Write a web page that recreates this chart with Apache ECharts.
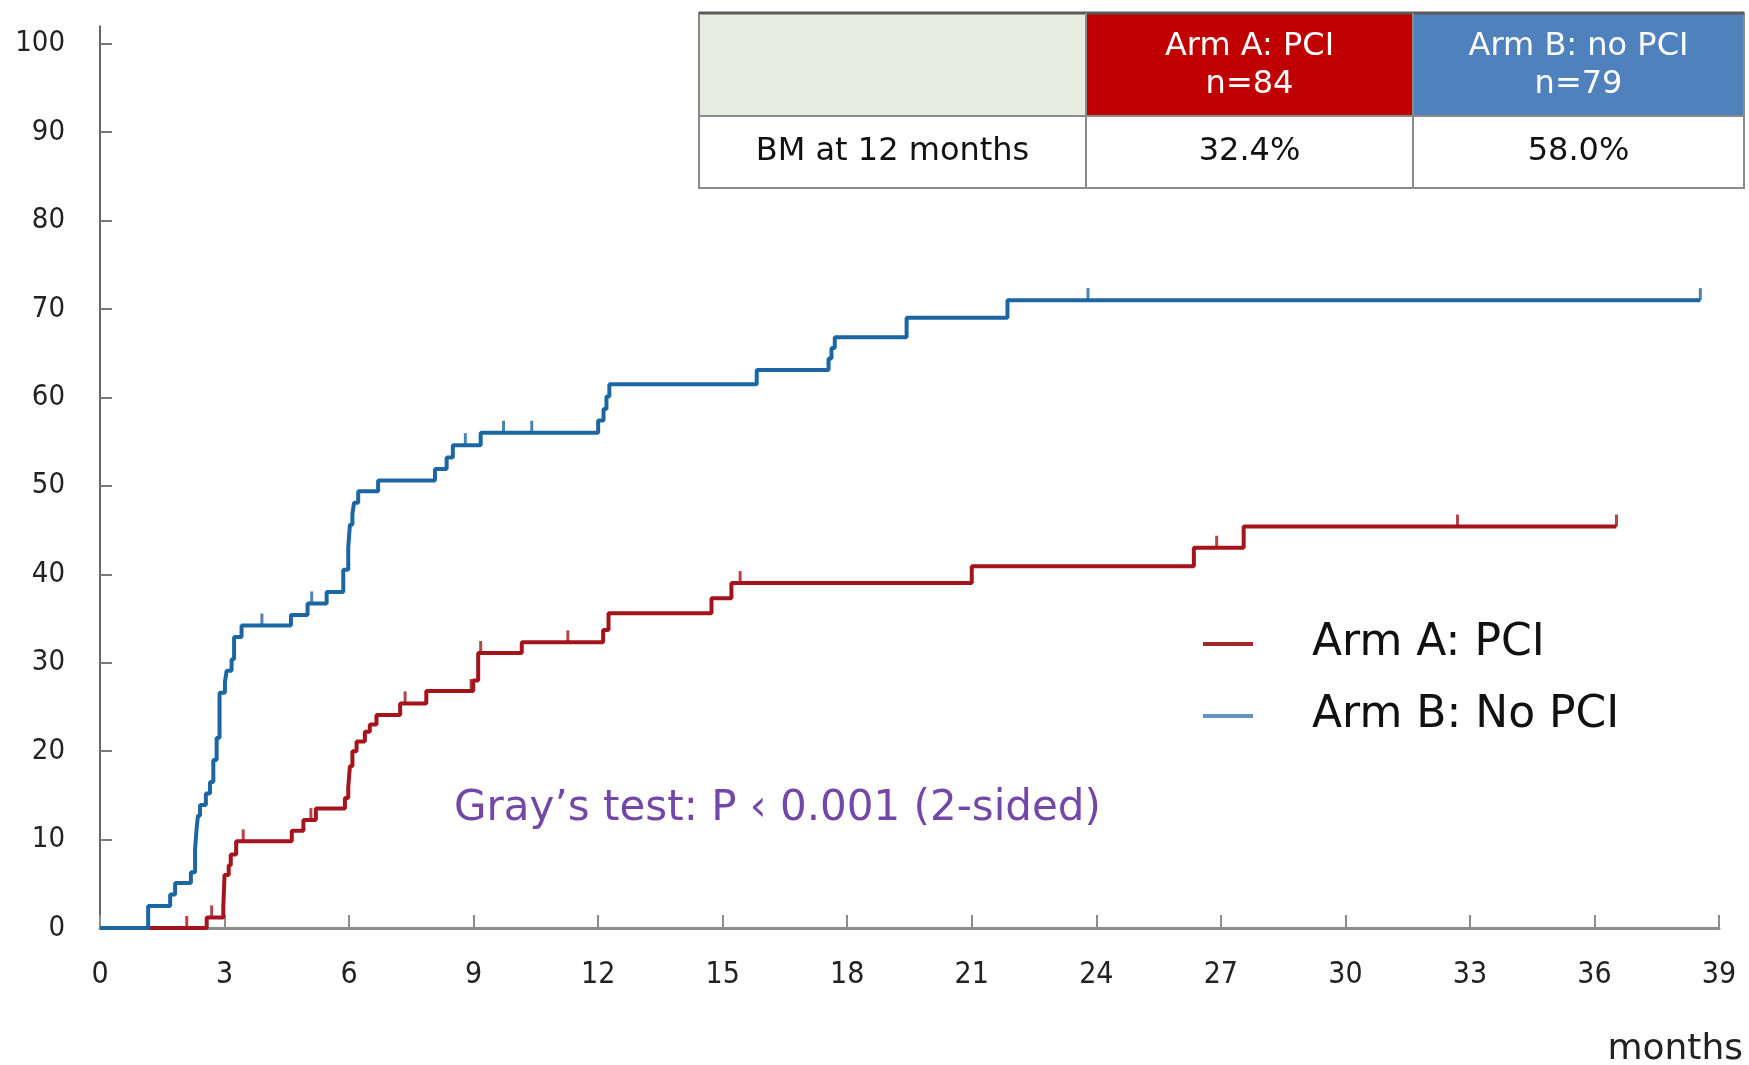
<!DOCTYPE html>
<html>
<head>
<meta charset="utf-8">
<title>Cumulative incidence of BM</title>
<script src="https://cdn.jsdelivr.net/npm/echarts@6/dist/echarts.min.js"></script>
<style>
  html, body { margin: 0; padding: 0; background: #ffffff; }
  #chart { width: 1749px; height: 1065px; }
</style>
</head>
<body>
<div id="chart"></div>
<script>
// Cumulative incidence (%) step curves, time in months
const armATimes = [0, 2.57, 2.97, 3.00, 3.10, 3.15, 3.28, 4.62, 4.90, 5.20, 5.90, 5.98, 6.02, 6.08, 6.18, 6.38, 6.50, 6.66, 7.23, 7.86, 8.99, 9.11, 10.16, 12.12, 12.25, 14.73, 15.21, 21.00, 26.35, 27.55, 36.53];
const armAPct   = [0, 1.2, 2.4, 6.0, 7.1, 8.3, 9.8, 11.0, 12.2, 13.5, 14.7, 15.9, 18.3, 20.0, 21.1, 22.2, 23.0, 24.1, 25.4, 26.8, 28.0, 31.1, 32.3, 33.7, 35.6, 37.3, 39.0, 40.9, 43.0, 45.4, 45.4];
const armACensor = [2.09, 2.69, 3.45, 5.08, 7.35, 8.94, 9.17, 11.27, 15.42, 26.9, 32.7, 36.53];

const armBTimes = [0, 1.16, 1.69, 1.81, 2.19, 2.29, 2.33, 2.36, 2.41, 2.55, 2.65, 2.73, 2.81, 2.88, 3.01, 3.05, 3.17, 3.23, 3.41, 4.60, 5.00, 5.46, 5.86, 5.98, 6.02, 6.08, 6.12, 6.22, 6.70, 8.07, 8.35, 8.50, 9.17, 12.00, 12.13, 12.20, 12.27, 15.82, 17.55, 17.62, 17.70, 19.43, 21.86, 38.55];
const armBPct   = [0, 2.5, 3.8, 5.1, 6.3, 8.9, 11.4, 12.7, 13.9, 15.2, 16.5, 19.0, 21.5, 26.6, 27.8, 29.1, 30.4, 32.9, 34.2, 35.4, 36.7, 38.0, 40.5, 43.0, 45.6, 46.8, 48.1, 49.4, 50.6, 51.9, 53.2, 54.6, 56.0, 57.4, 58.7, 60.1, 61.5, 63.1, 64.4, 65.6, 66.8, 69.0, 71.0, 71.0];
const armBCensor = [3.9, 5.1, 8.8, 9.72, 10.4, 23.8, 38.55];

const yTicks = [0, 10, 20, 30, 40, 50, 60, 70, 80, 90, 100];

const seriesNames = ['Arm A: PCI', 'Arm B: No PCI'];
const tableHeader = ['Arm A: PCI', 'n=84', 'Arm B: no PCI', 'n=79'];
const tableRow = ['BM at 12 months', '32.4%', '58.0%'];
const testNote = 'Gray\u2019s test: P \u2039 0.001 (2-sided)';

const RED = '#a3141c';
const BLUE = '#1c67a3';
const FONT = 'DejaVu Sans';
const AXIS_FONT = '"DejaVu Sans Condensed", "DejaVu Sans"';

function zip(xs, ys) { return xs.map((x, i) => [x, ys[i]]); }
// value of a right-continuous step curve at time t
function valueAt(xs, ys, t) {
  let v = ys[0];
  for (let i = 0; i < xs.length; i++) { if (xs[i] <= t) v = ys[i]; }
  return v;
}
function censorPoints(xs, ys, ts) { return ts.map(t => [t, valueAt(xs, ys, t)]); }

const chart = echarts.init(document.getElementById('chart'), null, { renderer: 'canvas' });

// summary table drawn above the plot
const T = { left: 699, c1: 1086, c2: 1413, right: 1744, top: 13, mid: 116, bottom: 188 };
const tableGraphics = [
  { type: 'rect', shape: { x: T.left, y: T.top, width: T.c1 - T.left, height: T.mid - T.top }, style: { fill: '#e9ede0' } },
  { type: 'rect', shape: { x: T.c1, y: T.top, width: T.c2 - T.c1, height: T.mid - T.top }, style: { fill: '#c00000' } },
  { type: 'rect', shape: { x: T.c2, y: T.top, width: T.right - T.c2, height: T.mid - T.top }, style: { fill: '#4f81bd' } },
  { type: 'rect', shape: { x: T.left, y: T.mid, width: T.right - T.left, height: T.bottom - T.mid }, style: { fill: '#ffffff' } },
  { type: 'rect', shape: { x: T.left, y: T.top, width: T.right - T.left, height: T.bottom - T.top }, style: { fill: null, stroke: '#8a8a8a', lineWidth: 2 } },
  { type: 'line', shape: { x1: T.left, y1: T.top, x2: T.right, y2: T.top }, style: { stroke: '#5a5a5a', lineWidth: 3 } },
  { type: 'line', shape: { x1: T.left, y1: T.mid, x2: T.right, y2: T.mid }, style: { stroke: '#8a8a8a', lineWidth: 2 } },
  { type: 'line', shape: { x1: T.c1, y1: T.top, x2: T.c1, y2: T.bottom }, style: { stroke: '#8a8a8a', lineWidth: 2 } },
  { type: 'line', shape: { x1: T.c2, y1: T.top, x2: T.c2, y2: T.bottom }, style: { stroke: '#8a8a8a', lineWidth: 2 } }
];
function cellText(txt, cx, cy, color) {
  return { type: 'text', x: cx, y: cy, style: { text: txt, fill: color, font: '32px "' + FONT + '"', align: 'center', verticalAlign: 'middle' } };
}
const midA = (T.c1 + T.c2) / 2, midB = (T.c2 + T.right) / 2, mid0 = (T.left + T.c1) / 2;
tableGraphics.push(
  cellText(tableHeader[0], midA, 47, '#ffffff'),
  cellText(tableHeader[1], midA, 85, '#ffffff'),
  cellText(tableHeader[2], midB, 47, '#ffffff'),
  cellText(tableHeader[3], midB, 85, '#ffffff'),
  cellText(tableRow[0], mid0, 152, '#111111'),
  cellText(tableRow[1], midA, 152, '#111111'),
  cellText(tableRow[2], midB, 152, '#111111')
);

const option = {
  backgroundColor: '#ffffff',
  animation: false,
  grid: { left: 100, right: 30, top: 26, bottom: 137, containLabel: false, outerBoundsMode: 'none' },
  xAxis: {
    type: 'value', min: 0, max: 39, interval: 3,
    name: 'months', nameLocation: 'end', nameGap: 24,
    nameTextStyle: { fontFamily: FONT, fontSize: 36, color: '#222', align: 'right', verticalAlign: 'top', padding: [104, 0, 0, 0] },
    axisLine: { show: true, onZero: false, lineStyle: { color: '#8c8c8c', width: 3 } },
    axisTick: { show: true, inside: true, length: 13, lineStyle: { color: '#8c8c8c', width: 2 } },
    axisLabel: { margin: 32, fontFamily: AXIS_FONT, fontSize: 30, color: '#222' },
    splitLine: { show: false }
  },
  yAxis: {
    type: 'value', min: 0, max: 102,
    axisLine: { show: true, lineStyle: { color: '#333333', width: 1.5 } },
    axisTick: { show: true, inside: true, length: 12, customValues: yTicks, lineStyle: { color: '#7a7a7a', width: 2 } },
    axisLabel: { margin: 35, fontFamily: AXIS_FONT, fontSize: 29, color: '#222', customValues: yTicks },
    splitLine: { show: false }
  },
  legend: {
    data: [
      { name: seriesNames[0], itemStyle: { color: '#a3262b' } },
      { name: seriesNames[1], itemStyle: { color: '#6593c6' } }
    ],
    orient: 'vertical', left: 1198, top: 614,
    icon: 'rect', itemWidth: 50, itemHeight: 4, itemGap: 22,
    selectedMode: false,
    textStyle: { fontFamily: FONT, fontSize: 44, color: '#111', lineHeight: 50, padding: [0, 0, 0, 54] }
  },
  graphic: tableGraphics.concat([
    { type: 'text', left: 454, top: 788, style: { text: testNote, fill: '#7347a8', font: '42px "' + FONT + '"' } }
  ]),
  series: [
    {
      name: seriesNames[0], type: 'line', step: 'end', showSymbol: false, z: 3,
      data: zip(armATimes, armAPct),
      lineStyle: { color: RED, width: 4 }, itemStyle: { color: RED }
    },
    {
      name: seriesNames[1], type: 'line', step: 'end', showSymbol: false, z: 4,
      data: zip(armBTimes, armBPct),
      lineStyle: { color: BLUE, width: 4 }, itemStyle: { color: BLUE }
    },
    {
      name: 'censor A', type: 'scatter', silent: true, z: 3,
      symbol: 'rect', symbolSize: [3, 12], symbolOffset: [0, -6],
      data: censorPoints(armATimes, armAPct, armACensor),
      itemStyle: { color: RED }
    },
    {
      name: 'censor B', type: 'scatter', silent: true, z: 4,
      symbol: 'rect', symbolSize: [3, 12], symbolOffset: [0, -6],
      data: censorPoints(armBTimes, armBPct, armBCensor),
      itemStyle: { color: BLUE }
    }
  ]
};

chart.setOption(option);
</script>
</body>
</html>
